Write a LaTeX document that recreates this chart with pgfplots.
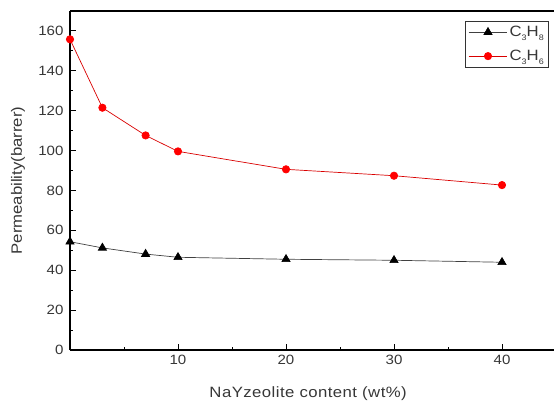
\documentclass[border=0pt]{standalone}
\usepackage{pgfplots}
\pgfplotsset{compat=1.18}
\usepackage{fontspec}
\setmainfont{Liberation Sans}[FakeStretch=1.12]
\definecolor{txt}{RGB}{55,55,55}
\newcommand{\sub}[1]{\raisebox{-3.5bp}{\fontsize{8}{8}\selectfont #1}}
\begin{document}
\begin{tikzpicture}
\path[use as bounding box] (-70bp,-51bp) rectangle (484bp,350bp);
\begin{axis}[
  at={(0,0)}, anchor=origin,
  scale only axis,
  width=486bp, height=339bp,
  xmin=0, xmax=45, ymin=0, ymax=170,
  axis x line*=bottom, axis y line*=left,
  xtick={10,20,30,40},
  minor xtick={5,15,25,35},
  ytick={0,20,...,160},
  minor ytick={10,30,...,150},
  tick align=inside,
  major tick length=6bp, minor tick length=3bp,
  every tick/.style={black, line width=0.9pt},
  axis line style={line width=1.1pt},
  /pgf/number format/assume math mode=true,
  ticklabel style={font=\fontsize{13.5}{15}\selectfont, text=txt},
  yticklabel style={xshift=-3bp},
  xticklabel style={yshift=-2bp},
  xlabel={\addfontfeature{LetterSpace=3}NaYzeolite content (wt\%)},
  ylabel={Permeability(barrer)},
  label style={font=\fontsize{15}{17}\selectfont, text=txt},
  xlabel style={at={(axis description cs:0.49,0)}, anchor=center, yshift=-44bp},
  ylabel style={at={(axis description cs:-0.107,0.5)}, anchor=center},
  legend style={at={(1,1)}, anchor=north east, xshift=-7bp, yshift=-10bp,
    draw=black!80, line width=0.6pt, font=\fontsize{15}{17}\selectfont,
    inner sep=3pt, row sep=8pt, cells={anchor=west}, text=txt},
  legend image code/.code={
    \draw[mark repeat=2,mark phase=2] plot coordinates {(0cm,0cm) (0.68cm,0cm) (1.36cm,0cm)};},
  legend cell align=left,
  clip=false,
]
\draw[line width=1.1pt] (rel axis cs:0,1) -- (rel axis cs:1,1) -- (rel axis cs:1,0);
\addplot[black!75, line width=0.7pt, mark=triangle*, mark size=4.7pt,
  mark options={black, solid}] coordinates {
(0,54.3) (3,51.2) (7,48.1) (10,46.5) (20,45.5) (30,45) (40,44)};
\addlegendentry{C\sub{3}H\sub{8}}
\addplot[red!85!black, line width=0.7pt, mark=*, mark size=3.7pt,
  mark options={red, draw=red, solid}] coordinates {
(0,155.8) (3,121.5) (7,107.6) (10,99.6) (20,90.6) (30,87.4) (40,82.7)};
\addlegendentry{C\sub{3}H\sub{6}}
\end{axis}
\end{tikzpicture}
\end{document}
